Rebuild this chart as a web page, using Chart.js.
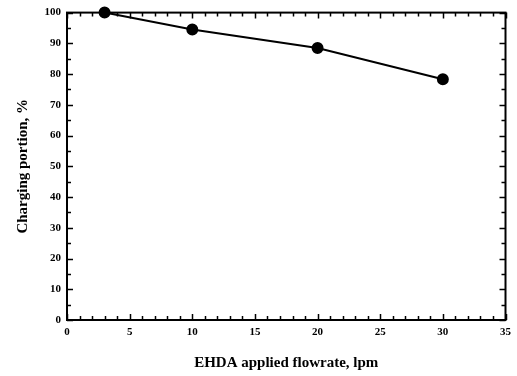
<!DOCTYPE html>
<html><head><meta charset="utf-8">
<script src="https://cdn.jsdelivr.net/npm/chart.js@4/dist/chart.umd.min.js"></script>
<style>html,body{margin:0;padding:0;background:#fff}#wrap{width:517px;height:376px}</style>
</head><body><div id="wrap"><canvas id="c" width="517" height="376"></canvas></div>
<script>
const flowrate = [3, 10, 20, 30];
const chargingPortion = [100, 94.5, 88.5, 78.3];
const xTitle = 'EHDA applied flowrate, lpm';
const yTitle = 'Charging portion, %';

const points = flowrate.map((x, i) => ({x, y: chargingPortion[i]}));

const frameTicks = {
  id: 'frameTicks',
  afterDraw(chart) {
    const {ctx, chartArea: a, scales} = chart;
    const xs = scales.x, ys = scales.y;
    ctx.save();
    ctx.strokeStyle = '#000';
    ctx.lineWidth = 2;
    ctx.strokeRect(a.left, a.top, a.right - a.left, a.bottom - a.top);
    ctx.lineWidth = 1.5;
    ctx.beginPath();
    for (let v = 0; v <= 35; v += 1) {
      const len = v % 5 === 0 ? 6 : 4;
      const px = Math.round(xs.getPixelForValue(v)) + 0.5;
      ctx.moveTo(px, a.bottom); ctx.lineTo(px, a.bottom - len);
      ctx.moveTo(px, a.top); ctx.lineTo(px, a.top + len);
    }
    for (let v = 0; v <= 100; v += 5) {
      const len = v % 10 === 0 ? 6 : 4;
      const py = Math.round(ys.getPixelForValue(v)) + 0.5;
      ctx.moveTo(a.left, py); ctx.lineTo(a.left + len, py);
      ctx.moveTo(a.right, py); ctx.lineTo(a.right - len, py);
    }
    ctx.stroke();
    ctx.restore();
  }
};

new Chart(document.getElementById('c'), {
  type: 'scatter',
  data: { datasets: [{
    data: points, showLine: true, borderColor: '#000', backgroundColor: '#000',
    borderWidth: 2, pointRadius: 5, pointHoverRadius: 5, clip: false
  }]},
  options: {
    responsive: false, animation: false, devicePixelRatio: 1,
    layout: { padding: { left: 0, right: 11, top: 12, bottom: 0 } },
    plugins: { legend: { display: false }, tooltip: { enabled: false } },
    scales: {
      x: {
        type: 'linear', min: 0, max: 35,
        ticks: { stepSize: 5, color: '#000', padding: 6, maxRotation: 0,
          font: { family: 'Liberation Serif', weight: 'bold', size: 11 } },
        grid: { drawOnChartArea: false, drawTicks: false },
        border: { display: false },
        title: { display: true, text: xTitle, color: '#000', padding: { top: 0, bottom: 4 },
          font: { family: 'Liberation Serif', weight: 'bold', size: 15 } },
        afterFit(s) { s.height = 56; }
      },
      y: {
        type: 'linear', min: 0, max: 100,
        ticks: { stepSize: 10, color: '#000', padding: 6,
          font: { family: 'Liberation Serif', weight: 'bold', size: 11 } },
        grid: { drawOnChartArea: false, drawTicks: false },
        border: { display: false },
        title: { display: true, text: yTitle, color: '#000', padding: { top: 14, bottom: 0 },
          font: { family: 'Liberation Serif', weight: 'bold', size: 15 } },
        afterFit(s) { s.width = 67; }
      }
    }
  },
  plugins: [frameTicks]
});
</script></body></html>
